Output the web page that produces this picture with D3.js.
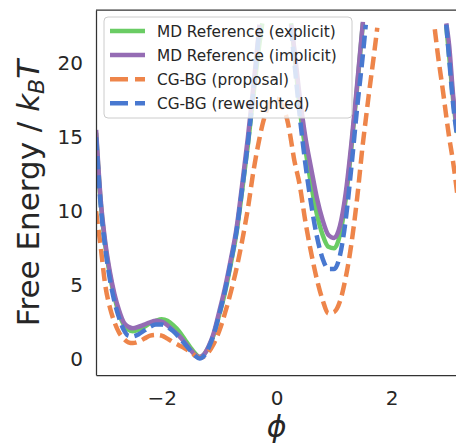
<!DOCTYPE html>
<html>
<head>
<meta charset="utf-8">
<script src="https://cdn.jsdelivr.net/npm/d3@7"></script>
<style>
  body { margin: 0; background: #fff; }
  text { font-family: "DejaVu Sans", sans-serif; fill: #262626; }
</style>
</head>
<body>
<div id="chart"></div>
<script>
'use strict';

// dihedral angle grid (rad); null = not sampled
const phi = [-3.14, -3.06, -2.98, -2.9, -2.82, -2.74, -2.66, -2.58, -2.5, -2.4,
             -2.3, -2.2, -2.1, -2.0, -1.9, -1.8, -1.7, -1.6, -1.5, -1.42,
             -1.34, -1.26, -1.18, -1.1, -1.0, -0.9, -0.8, -0.7, -0.6, -0.5,
             -0.4, -0.3, -0.25, -0.2, -0.1, 0.0, 0.1, 0.2, 0.25, 0.3,
             0.4, 0.5, 0.6, 0.7, 0.8, 0.9, 1.0, 1.1, 1.2, 1.3,
             1.4, 1.5, 1.55, 1.6, 1.7, 1.75, 2.2, 2.75, 2.8, 2.9,
             2.95, 3.0, 3.07, 3.14];

const mdExplicit = [15.3, 10.6, 7.7, 5.7, 4.2, 3.1, 2.35, 2.0, 1.9, 2.0,
                    2.2, 2.45, 2.6, 2.7, 2.6, 2.3, 1.9, 1.35, 0.8, 0.4,
                    0.15, 0.35, 0.85, 1.6, 3.0, 4.5, 6.4, 8.5, 11.4, 14.5,
                    18.0, 21.3, 22.7, null, null, null, null, null, 22.7, 21.0,
                    17.0, 14.2, 11.8, 9.8, 8.4, 7.6, 7.5, 8.4, 10.8, 14.3,
                    18.4, 22.7, null, null, null, null, null, null, null, null,
                    22.5, 20.5, 17.5, 15.3];

const mdImplicit = [15.5, 10.8, 7.9, 5.9, 4.4, 3.3, 2.5, 2.2, 2.1, 2.2,
                    2.35, 2.5, 2.6, 2.55, 2.3, 1.95, 1.6, 1.15, 0.65, 0.3,
                    0.15, 0.35, 0.9, 1.7, 3.2, 4.8, 6.7, 8.8, 11.8, 15.0,
                    18.6, 22.6, null, null, null, null, null, null, 22.6, 21.2,
                    17.8, 15.0, 12.9, 10.9, 9.4, 8.4, 8.2, 9.0, 11.2, 14.6,
                    18.6, 22.8, null, null, null, null, null, null, null, null,
                    22.7, 21.2, 17.8, 15.5];

const cgProposal = [10.0, 7.6, 5.0, 3.5, 2.5, 1.8, 1.4, 1.15, 1.1, 1.2,
                    1.4, 1.6, 1.65, 1.6, 1.4, 1.15, 0.95, 0.75, 0.5, 0.25,
                    0.1, 0.2, 0.5, 1.0, 1.9, 3.1, 4.5, 6.1, 8.0, 10.2,
                    12.8, 14.9, 15.8, 16.5, 17.4, 17.6, 17.1, 15.9, 14.8, 13.6,
                    11.8, 9.3, 7.2, 5.4, 4.0, 3.1, 3.2, 3.9, 5.5, 7.8,
                    10.9, 14.6, 16.2, 17.8, 20.8, 22.4, null, 22.3, 20.7, 17.9,
                    16.4, 15.0, 13.3, 11.2];

const cgReweighted = [15.0, 10.4, 7.5, 5.4, 3.9, 2.8, 2.0, 1.6, 1.55, 1.7,
                      1.95, 2.2, 2.35, 2.35, 2.2, 1.9, 1.5, 1.05, 0.6, 0.25,
                      0.05, 0.25, 0.8, 1.6, 3.0, 4.6, 6.5, 8.6, 11.5, 14.6,
                      18.2, 22.4, null, null, null, null, null, null, 22.4, 20.4,
                      16.5, 13.2, 10.5, 8.3, 6.8, 6.1, 6.1, 7.0, 9.4, 13.0,
                      17.0, 20.6, 22.6, null, null, null, null, null, null, null,
                      22.6, 20.3, 17.2, 15.0];

const seriesNames = ['MD Reference (explicit)', 'MD Reference (implicit)',
                     'CG-BG (proposal)', 'CG-BG (reweighted)'];
const seriesValues = [mdExplicit, mdImplicit, cgProposal, cgReweighted];
const seriesColors = ['#6acc64', '#956cb4', '#ee854a', '#4878d0'];
const seriesDashed = [false, false, true, true];

const xTicks = [-2, 0, 2];
const yTicks = [0, 5, 10, 15, 20];

const W = 456, H = 447;
const margins = { top: 10, left: 96, width: 361.3, height: 365 };

let svg = d3.select('#chart').append('svg')
            .attr('width', W)
            .attr('height', H);

svg.append('defs').append('clipPath').attr('id', 'plotclip')
   .append('rect')
   .attr('width', margins.width)
   .attr('height', margins.height);

let g = svg.append('g').attr('transform', `translate(${margins.left},${margins.top})`);

let x = d3.scaleLinear()
          .domain([-Math.PI, Math.PI])
          .range([0, margins.width]);
let y = d3.scaleLinear()
          .domain([-1.06, 23.6])
          .range([margins.height, 0]);

// curves
let plot = g.append('g').attr('clip-path', 'url(#plotclip)');
seriesValues.forEach((vals, i) => {
    let pts = phi.map((p, k) => ({ x: p, y: vals[k] }));
    let line = d3.line()
                 .defined(d => d.y !== null)
                 .curve(d3.curveMonotoneX)
                 .x(d => x(d.x))
                 .y(d => y(d.y));
    plot.append('path')
        .attr('d', line(pts))
        .attr('fill', 'none')
        .attr('stroke', seriesColors[i])
        .attr('stroke-width', 4.5)
        .attr('stroke-dasharray', seriesDashed[i] ? '13,6' : null);
});

// axes
let xAxis = d3.axisBottom(x).tickValues(xTicks).tickSize(0).tickPadding(16)
              .tickFormat(d => d < 0 ? '\u2212' + Math.abs(d) : d);
let yAxis = d3.axisLeft(y).tickValues(yTicks).tickSize(0).tickPadding(13);

let gx = g.append('g').attr('transform', `translate(0,${margins.height})`).call(xAxis);
let gy = g.append('g').call(yAxis);
[gx, gy].forEach(a => {
    a.selectAll('text').attr('font-size', 20).attr('font-family', 'DejaVu Sans').attr('fill', '#262626');
    a.select('.domain').attr('stroke', '#333').attr('stroke-width', 1.25);
});

g.append('line')
 .attr('x1', 0).attr('x2', margins.width)
 .attr('y1', 0).attr('y2', 0)
 .attr('stroke', '#333').attr('stroke-width', 1.25);
g.append('line')
 .attr('x1', margins.width).attr('x2', margins.width)
 .attr('y1', 0).attr('y2', margins.height)
 .attr('stroke', '#333').attr('stroke-width', 1.25);

// axis labels
svg.append('text')
   .attr('x', margins.left + margins.width / 2)
   .attr('y', 437)
   .attr('text-anchor', 'middle')
   .attr('font-size', 30)
   .attr('font-style', 'italic')
   .text('\u03d5');

let yl = svg.append('text')
            .attr('transform', `translate(39,193) rotate(-90)`)
            .attr('text-anchor', 'middle')
            .attr('font-size', 31);
yl.append('tspan').text('Free Energy / ');
yl.append('tspan').attr('font-style', 'italic').text('k');
yl.append('tspan').attr('font-style', 'italic').attr('font-size', 22).attr('dy', 5).text('B');
yl.append('tspan').attr('font-style', 'italic').attr('dy', -5).text('T');

// legend
let lg = svg.append('g').attr('transform', 'translate(104,17)');
lg.append('rect')
  .attr('width', 248).attr('height', 101)
  .attr('rx', 4)
  .attr('fill', '#fff').attr('fill-opacity', 0.8)
  .attr('stroke', '#ccc').attr('stroke-width', 1);
seriesNames.forEach((name, i) => {
    let cy = 14 + i * 24.1;
    lg.append('line')
      .attr('x1', 6).attr('x2', 41)
      .attr('y1', cy).attr('y2', cy)
      .attr('stroke', seriesColors[i])
      .attr('stroke-width', 4.5)
      .attr('stroke-dasharray', seriesDashed[i] ? '18,7' : null);
    lg.append('text')
      .attr('x', 53).attr('y', cy + 6)
      .attr('font-size', 15.3)
      .text(name);
});
</script>
</body>
</html>
